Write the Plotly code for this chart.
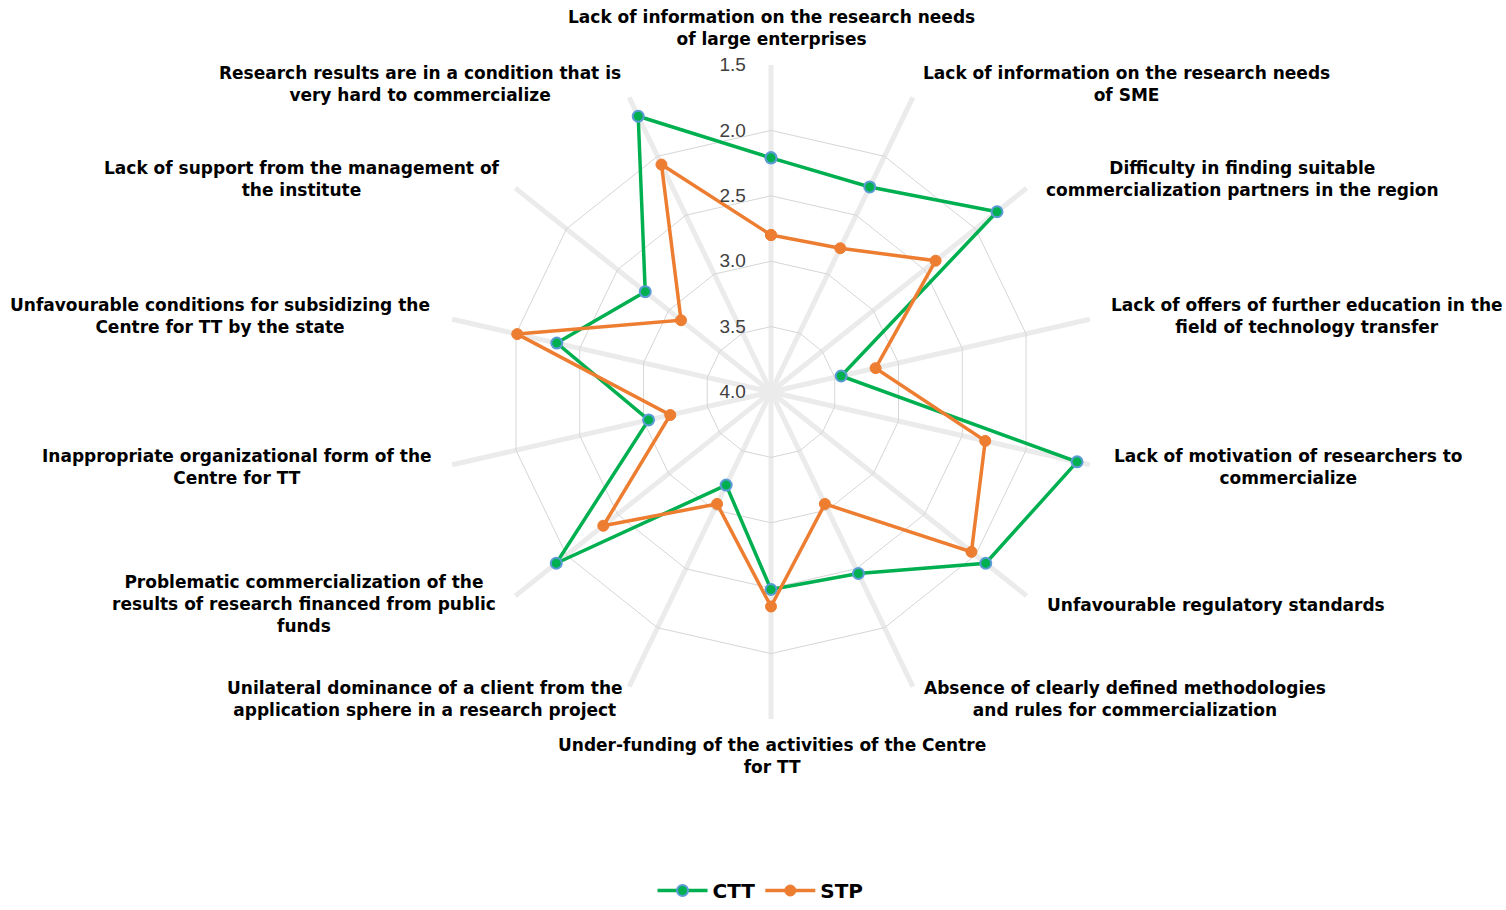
import plotly.graph_objects as go

# Barriers to technology transfer (mean scores, 1.5 = strongest barrier at rim)
categories = [
    "Lack of information on the research needs<br>of large enterprises",
    "Lack of information on the research needs<br>of SME",
    "Difficulty in finding suitable<br>commercialization partners in the region",
    "Lack of offers of further education in the<br>field of technology transfer",
    "Lack of motivation of researchers to<br>commercialize",
    "Unfavourable regulatory standards",
    "Absence of clearly defined methodologies<br>and rules for commercialization",
    "Under-funding of the activities of the Centre<br>for TT",
    "Unilateral dominance of a client from the<br>application sphere in a research project",
    "Problematic commercialization of the<br>results of research financed from public<br>funds",
    "Inappropriate organizational form of the<br>Centre for TT",
    "Unfavourable conditions for subsidizing the<br>Centre for TT by the state",
    "Lack of support from the management of<br>the institute",
    "Research results are in a condition that is<br>very hard to commercialize",
]

ctt = [2.21, 2.26, 1.79, 3.45, 1.60, 1.90, 2.46, 2.49, 3.21, 1.90, 3.04, 2.32, 2.77, 1.66]
stp = [2.80, 2.78, 2.39, 3.18, 2.32, 2.04, 3.05, 2.36, 3.05, 2.36, 3.21, 2.01, 3.12, 2.07]

radial_ticks = [1.5, 2.0, 2.5, 3.0, 3.5, 4.0]

# Label centres in pixels (figure is 1506 x 910)
label_pos = [
    (771, 28), (1126, 84), (1242, 179), (1307, 316), (1288, 467),
    (1216, 605), (1125, 699), (772, 756), (425, 699), (304, 604),
    (237, 467), (220, 316), (302, 179), (420, 84),
]

W, H = 1506, 910
cx, cy, R = 771, 392, 327

label_font = "DejaVu Sans"

fig = go.Figure()

fig.add_trace(go.Scatterpolar(
    r=ctt + ctt[:1], theta=categories + categories[:1],
    mode="lines+markers", name="<b>CTT</b>",
    line=dict(color="#00b050", width=3.5),
    marker=dict(size=11, color="#00b050", line=dict(color="#5b9bd5", width=2)),
))
fig.add_trace(go.Scatterpolar(
    r=stp + stp[:1], theta=categories + categories[:1],
    mode="lines+markers", name="<b>STP</b>",
    line=dict(color="#ed7d31", width=3.5),
    marker=dict(size=11, color="#ed7d31", line=dict(color="#ed7d31", width=1)),
))

for text, (px, py) in zip(categories, label_pos):
    fig.add_annotation(
        x=px / W, y=1 - py / H, xref="paper", yref="paper",
        text="<b>" + text + "</b>", showarrow=False,
        xanchor="center", yanchor="middle", align="center",
        font=dict(family=label_font, size=17, color="#000000"),
    )

fig.update_layout(
    width=W, height=H,
    margin=dict(l=0, r=0, t=0, b=0),
    paper_bgcolor="white",
    plot_bgcolor="white",
    polar=dict(
        domain=dict(x=[(cx - R) / W, (cx + R) / W], y=[1 - (cy + R) / H, 1 - (cy - R) / H]),
        gridshape="linear",
        bgcolor="white",
        radialaxis=dict(
            range=[4.0, 1.5],
            tickvals=radial_ticks,
            ticktext=[f"{v:.1f}" for v in radial_ticks],
            angle=90, tickangle=90, side="counterclockwise",
            showline=False,
            ticks="outside", ticklen=18, tickcolor="rgba(0,0,0,0)",
            gridcolor="#d6d6d6", gridwidth=1,
            tickfont=dict(family="Liberation Sans", size=19, color="#404040"),
        ),
        angularaxis=dict(
            rotation=90, direction="clockwise",
            showticklabels=False, ticks="",
            showline=False,
            gridcolor="#ebebeb", gridwidth=5,
        ),
    ),
    legend=dict(
        orientation="h", x=0.505, xanchor="center", y=0, yanchor="bottom",
        font=dict(family=label_font, size=20, color="#000000"),
        itemwidth=50,
    ),
    showlegend=True,
)

fig.write_html("out.html")
